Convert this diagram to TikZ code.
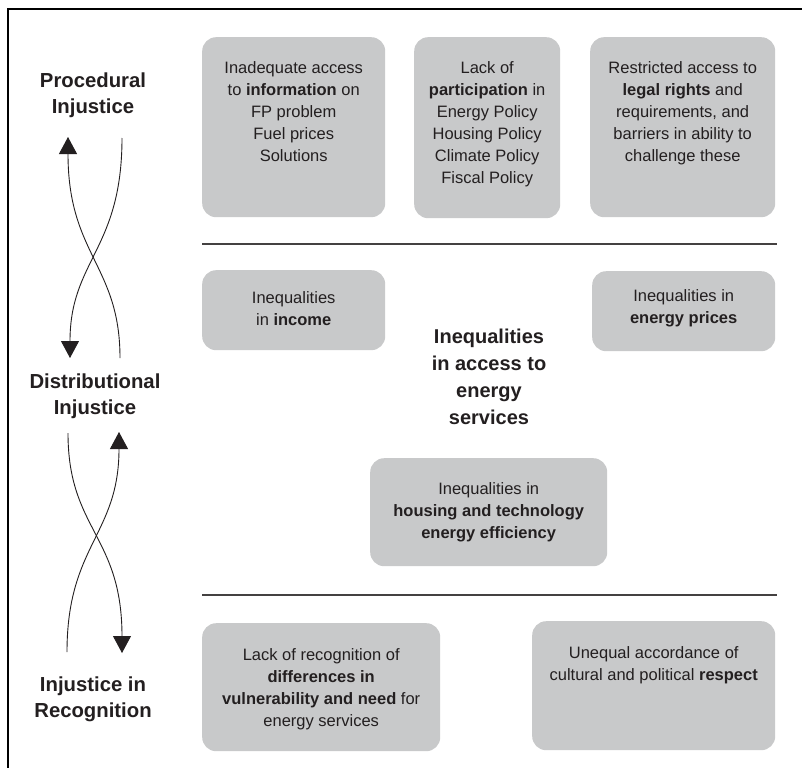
\documentclass[tikz,border=0pt]{standalone}
\usepackage{fontspec}
\setmainfont{Liberation Sans}
\usetikzlibrary{arrows.meta}
\definecolor{boxgray}{HTML}{C8C9CA}
\definecolor{ink}{HTML}{231F20}
\begin{document}
\begin{tikzpicture}[x=1pt,y=-1pt,
  box/.style={fill=boxgray, rounded corners=14pt, draw=none, inner sep=0pt, anchor=north west},
  body/.style={font=\fontsize{16.5}{22}\selectfont, align=center, text=ink, inner sep=0pt},
  side/.style={font=\fontsize{20.3}{26}\selectfont\bfseries, align=center, text=ink, inner sep=0pt},
  centre/.style={font=\fontsize{20}{27}\selectfont\bfseries, align=center, text=ink, inner sep=0pt},
  arr/.style={draw=ink, line width=0.9pt, -{Triangle[width=18pt,length=17pt]}},
  sep/.style={draw=ink!85, line width=1.2pt},
  frame/.style={draw=black, line width=1.6pt}]
\useasboundingbox (0,0) rectangle (802,768);
\fill[white] (0,0) rectangle (802,768);
% frame
\coordinate (ftr) at (802,9);
\coordinate (ftl) at (8,9);
\coordinate (fbl) at (8,768);
\draw[frame] (ftr) -- (ftl) -- (fbl);

% boxes
\node[box, minimum width=183pt, minimum height=180pt] (b1) at (202,37) {};
\node[box, minimum width=146pt, minimum height=181pt] (b2) at (414,37) {};
\node[box, minimum width=185pt, minimum height=180pt] (b3) at (590,37) {};
\node[box, minimum width=183pt, minimum height=80pt] (b4) at (202,270) {};
\node[box, minimum width=183pt, minimum height=80pt] (b5) at (592,271) {};
\node[box, minimum width=237pt, minimum height=108pt] (b6) at (370,458) {};
\node[box, minimum width=238pt, minimum height=128pt] (b7) at (202,623) {};
\node[box, minimum width=243pt, minimum height=129pt] (b8) at (532,621) {};

% box texts
\node[body, anchor=north] (t1) at ([yshift=-24pt]b1.north) {Inadequate access\\to \textbf{information} on\\FP problem\\Fuel prices\\Solutions};
\node[body, anchor=north] (t2) at ([yshift=-24pt]b2.north) {Lack of\\\textbf{participation} in\\Energy Policy\\Housing Policy\\Climate Policy\\Fiscal Policy};
\node[body, anchor=north] (t3) at ([yshift=-24pt]b3.north) {Restricted access to\\\textbf{legal rights} and\\requirements, and\\barriers in ability to\\challenge these};
\node[body] (t4) at ([yshift=2pt]b4.center) {Inequalities\\in \textbf{income}};
\node[body] (t5) at ([yshift=3pt]b5.center) {Inequalities in\\\textbf{energy prices}};
\node[body] (t6) at (b6.center) {Inequalities in\\\textbf{housing and technology}\\\textbf{energy efficiency}};
\node[body, anchor=north] (t7) at ([yshift=-25pt]b7.north) {Lack of recognition of\\\textbf{differences in}\\\textbf{vulnerability and need} for\\energy services};
\node[body, anchor=north] (t8) at ([yshift=-25pt]b8.north) {Unequal accordance of\\cultural and political \textbf{respect}};

% centre label
\node[centre] (ctr) at (489,377) {Inequalities\\in access to\\energy\\services};

% separators
\coordinate (s1a) at (202,244);
\coordinate (s1b) at (777,244);
\coordinate (s2a) at (202,595);
\coordinate (s2b) at (777,595);
\draw[sep] (s1a) -- (s1b);
\draw[sep] (s2a) -- (s2b);

% side labels
\node[side] (proc) at (93,95) {Procedural\\Injustice};
\node[side] (dist) at (95,396) {Distributional\\Injustice};
\node[side] (recg) at (93,699) {Injustice in\\Recognition};

% arrows pair 1
\coordinate (p1a) at (120,358);
\coordinate (p1b) at (68,137);
\coordinate (p1c) at (122,138);
\coordinate (p1d) at (70,358);
\draw[arr] (p1a) .. controls (120,265) and (68,255) .. (p1b);
\draw[arr] (p1c) .. controls (122,250) and (70,260) .. (p1d);

% arrows pair 2
\coordinate (p2a) at (68,433);
\coordinate (p2b) at (122,653);
\coordinate (p2c) at (67,652);
\coordinate (p2d) at (119,432);
\draw[arr] (p2a) .. controls (68,530) and (122,535) .. (p2b);
\draw[arr] (p2c) .. controls (67,545) and (119,535) .. (p2d);
\end{tikzpicture}
\end{document}
